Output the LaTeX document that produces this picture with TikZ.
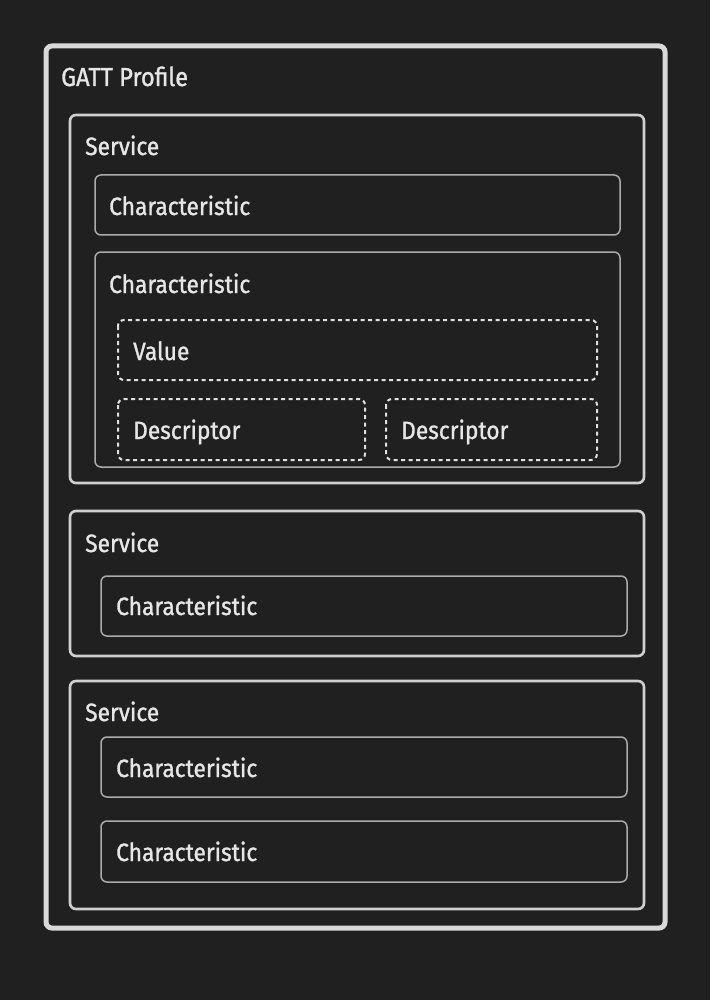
\documentclass[tikz,border=0pt]{standalone}
\usepackage{fontspec}
\setmainfont{Fira Sans}[FakeStretch=0.91,FakeBold=1.2]
\definecolor{bg}{HTML}{202020}
\definecolor{outerc}{HTML}{D9D9D9}
\definecolor{svcc}{HTML}{D0D0D0}
\definecolor{chc}{HTML}{ABABAB}
\definecolor{dashc}{HTML}{E0E0E0}
\definecolor{txt}{HTML}{E6E6E6}
\tikzset{
  outerbox/.style={draw=outerc, line width=5pt, rounded corners=6pt},
  svcbox/.style={draw=svcc, line width=2.6pt, rounded corners=6pt},
  charbox/.style={draw=chc, line width=1.5pt, rounded corners=6pt},
  valbox/.style={draw=dashc, line width=2pt, dash pattern=on 4pt off 3.5pt, rounded corners=6pt},
  lbl/.style={anchor=base west, inner sep=0pt, text=txt, font=\fontsize{25}{28}\selectfont},
  lblbig/.style={anchor=base west, inner sep=0pt, text=txt, font=\fontsize{26}{30}\selectfont},
}
\begin{document}
\begin{tikzpicture}[x=1pt,y=-1pt]
\fill[bg] (0,0) rectangle (710,1000);
\useasboundingbox (0,0) rectangle (710,1000);
% outer
\draw[outerbox] (46,46) rectangle (665,928);
\node[lblbig] (gatt) at (61,86) {GATT Profile};
% service 1
\draw[svcbox] (70,115) rectangle (644,483);
\node[lbl] (s1) at (85,155) {Service};
\draw[charbox] (95,175) rectangle (620,235);
\node[lbl] (c1) at (109,215) {Characteristic};
\draw[charbox] (95,252) rectangle (620,467);
\node[lbl] (c2) at (109,293) {Characteristic};
\draw[valbox] (118,320) rectangle (597,380);
\node[lbl] (v) at (133,360) {Value};
\draw[valbox] (118,399) rectangle (365,460);
\node[lbl] (d1) at (133,439) {Descriptor};
\draw[valbox] (386,399) rectangle (597,460);
\node[lbl] (d2) at (401,439) {Descriptor};
% service 2
\draw[svcbox] (70,511) rectangle (644,656);
\node[lbl] (s2) at (85,552) {Service};
\draw[charbox] (101,576) rectangle (627,636);
\node[lbl] (c3) at (116,615) {Characteristic};
% service 3
\draw[svcbox] (70,681) rectangle (644,909);
\node[lbl] (s3) at (85,721) {Service};
\draw[charbox] (101,737) rectangle (627,797);
\node[lbl] (c4) at (116,777) {Characteristic};
\draw[charbox] (101,821) rectangle (627,882);
\node[lbl] (c5) at (116,861) {Characteristic};
\end{tikzpicture}
\end{document}
